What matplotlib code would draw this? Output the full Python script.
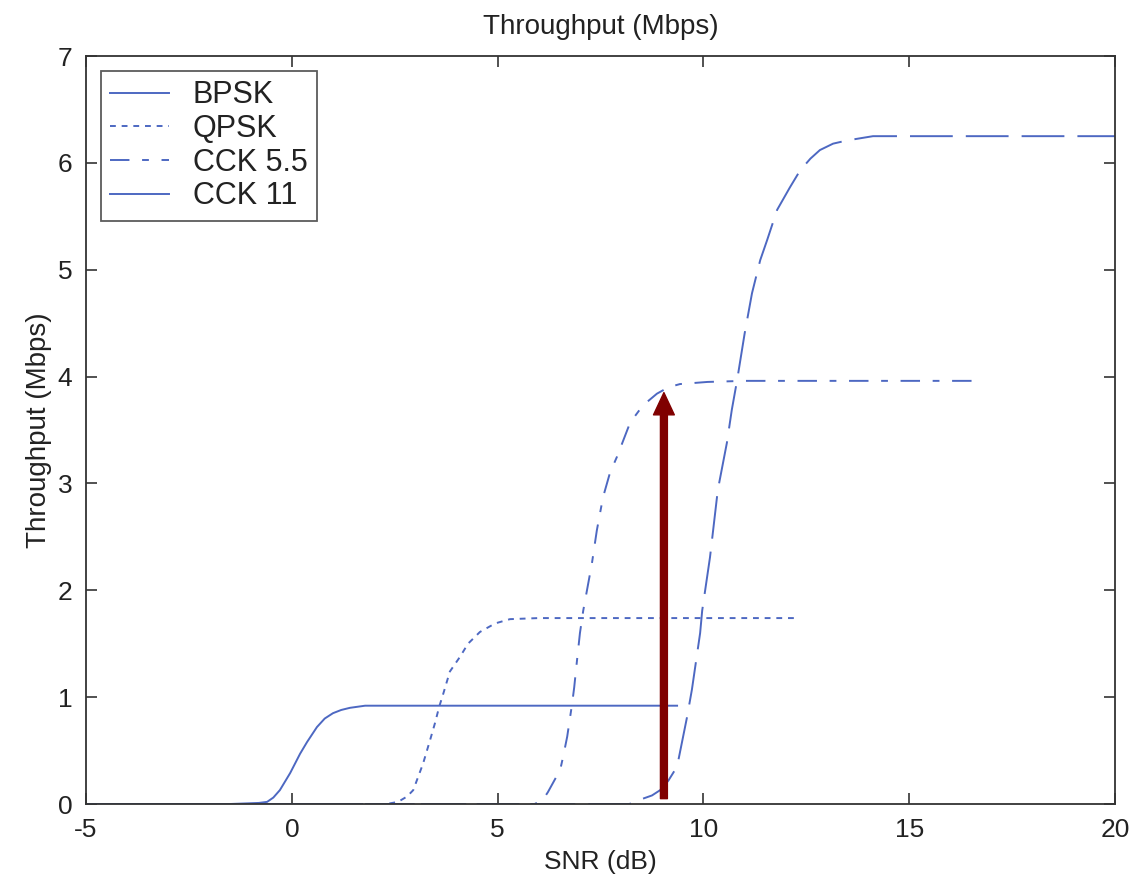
import matplotlib.pyplot as plt
from matplotlib.lines import Line2D

plt.rcParams['font.family'] = ['Liberation Sans', 'DejaVu Sans']
plt.rcParams['axes.unicode_minus'] = False

# BPSK
bpsk_x = [-5, -1.5, -0.8, -0.6, -0.45, -0.29, -0.04, 0.2, 0.37, 0.61, 0.8, 1.0, 1.2, 1.41, 1.78, 2.5, 9.36]
bpsk_y = [0, 0, 0.01, 0.02, 0.06, 0.13, 0.29, 0.47, 0.58, 0.72, 0.80, 0.85, 0.88, 0.90, 0.92, 0.92, 0.92]

# QPSK
qpsk_x = [-5, 2.3, 2.58, 2.8, 2.95, 3.19, 3.36, 3.48, 3.58, 3.67, 3.84, 4.09, 4.28, 4.57, 4.94, 5.3, 6.0, 12.2]
qpsk_y = [0, 0, 0.02, 0.07, 0.13, 0.38, 0.60, 0.76, 0.91, 1.02, 1.24, 1.38, 1.50, 1.61, 1.69, 1.73, 1.74, 1.74]

# CCK 5.5
cck55_x = [-5, 5.9, 6.1, 6.22, 6.52, 6.59, 6.69, 6.76, 6.81, 6.86, 6.93, 7.0, 7.08, 7.29, 7.41, 7.56,
           7.73, 7.9, 8.05, 8.22, 8.53, 8.87, 9.15, 9.43, 10.1, 11.0, 16.55]
cck55_y = [0, 0, 0.04, 0.11, 0.32, 0.44, 0.63, 0.81, 0.94, 1.09, 1.35, 1.6, 1.81, 2.25, 2.56, 2.87,
           3.10, 3.25, 3.40, 3.57, 3.73, 3.84, 3.90, 3.93, 3.95, 3.96, 3.96]

# CCK 11
cck11_x = [-5, 8.2, 8.53, 8.75, 8.95, 9.15, 9.36, 9.6, 9.72, 9.92, 9.97, 10.16, 10.35, 10.57, 10.69, 10.82,
           11.0, 11.18, 11.38, 11.55, 11.79, 12.1, 12.35, 12.6, 12.83, 13.15, 13.49, 14.12, 15.0, 20.0]
cck11_y = [0, 0, 0.05, 0.08, 0.13, 0.22, 0.35, 0.81, 1.07, 1.6, 1.81, 2.31, 2.94, 3.38, 3.69, 3.97,
           4.40, 4.78, 5.09, 5.28, 5.56, 5.77, 5.93, 6.04, 6.12, 6.18, 6.21, 6.25, 6.25, 6.25]

arrow_x = 9.04
arrow_y0 = 0.05
arrow_y1 = 3.85

blue = '#4d68c2'
lw = 1.4

fig = plt.figure(figsize=(11.32, 8.81), dpi=100)
ax = fig.add_axes([0.076, 0.0874, 0.909, 0.8490])

l1, = ax.plot(bpsk_x, bpsk_y, color=blue, lw=lw, linestyle='-')
l2, = ax.plot(qpsk_x, qpsk_y, color=blue, lw=lw, linestyle=(0, (3, 3)))
l3, = ax.plot(cck55_x, cck55_y, color=blue, lw=lw, linestyle=(0, (10, 6.5, 3.5, 6.5)))
l4, = ax.plot(cck11_x, cck11_y, color=blue, lw=lw, linestyle=(0, (22, 6.7)))

ax.annotate('', xy=(arrow_x, arrow_y1), xytext=(arrow_x, arrow_y0),
            arrowprops=dict(width=5, headwidth=15, headlength=16, shrink=0,
                            facecolor='#800000', edgecolor='#800000'))

ax.set_xlim(-5, 20)
ax.set_ylim(0, 7)
ax.set_xticks([-5, 0, 5, 10, 15, 20])
ax.set_yticks([0, 1, 2, 3, 4, 5, 6, 7])
ax.tick_params(direction='in', top=True, right=True, labelsize=19, length=8,
               width=1.2, color='#333333', labelcolor='#222222', pad=10)
for s in ax.spines.values():
    s.set_color('#333333')
    s.set_linewidth(1.3)

ax.set_xlabel('SNR (dB)', fontsize=19, color='#222222', labelpad=6)
ax.set_ylabel('Throughput (Mbps)', fontsize=20, color='#222222', labelpad=4)
ax.set_title('Throughput (Mbps)', fontsize=20, color='#222222', pad=16)

cck11_handle = Line2D([], [], color=blue, lw=lw, linestyle='-')
leg = ax.legend([l1, l2, l3, cck11_handle], ['BPSK', 'QPSK', 'CCK 5.5', 'CCK 11'],
                loc='upper left', fontsize=22, frameon=True, fancybox=False,
                borderaxespad=0.5, handlelength=1.9, labelspacing=0.12,
                handletextpad=0.8, borderpad=0.3)
leg.get_frame().set_edgecolor('#333333')
leg.get_frame().set_linewidth(1.3)
for t in leg.get_texts():
    t.set_color('#222222')

fig.savefig('out.png', dpi=100)
